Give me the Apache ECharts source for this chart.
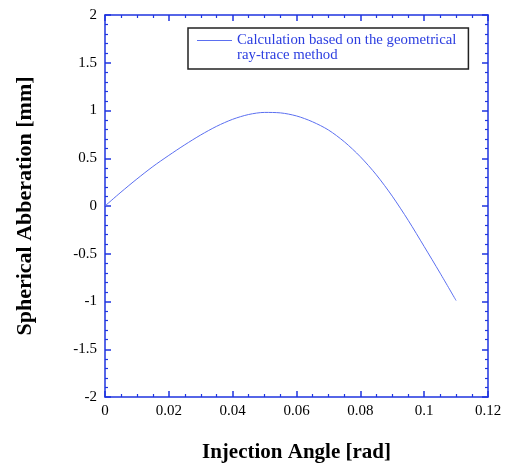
<!DOCTYPE html>
<html>
<head>
<meta charset="utf-8">
<script src="https://cdn.jsdelivr.net/npm/echarts@6/dist/echarts.min.js"></script>
<style>
    html, body { margin: 0; padding: 0; background: #fff; }
    #chart { width: 506px; height: 464px; }
</style>
</head>
<body>
<div id="chart"></div>
<script>
// values
const angles = [0, 0.005, 0.01, 0.015, 0.02, 0.025, 0.03, 0.035, 0.04, 0.045, 0.05, 0.055,
    0.06, 0.065, 0.07, 0.075, 0.08, 0.085, 0.09, 0.095, 0.1, 0.105, 0.11];
const aberration = [0, 0.145, 0.283, 0.413, 0.530, 0.641, 0.744, 0.835, 0.908, 0.958, 0.980, 0.975,
    0.943, 0.882, 0.796, 0.672, 0.516, 0.327, 0.103, -0.150, -0.424, -0.703, -0.99];
const seriesName = 'Calculation based on the geometrical\nray-trace method';

const axisBlue = '#1f35e0';
const lineBlue = '#5b6ff0';
const serif = '"Liberation Serif", "DejaVu Serif", serif';

function fmt(v) {
    return String(parseFloat(v.toFixed(2)));
}

function frameAxis(pos, min, max, interval, minors, showLabel) {
    return {
        type: 'value',
        position: pos,
        min: min,
        max: max,
        interval: interval,
        axisLine: {show: true, onZero: false, lineStyle: {color: axisBlue, width: 1.5}},
        axisTick: {show: true, inside: true, length: 6, lineStyle: {color: axisBlue, width: 1.5}},
        minorTick: {show: true, splitNumber: minors, length: 3, lineStyle: {color: axisBlue, width: 1.2}},
        splitLine: {show: false},
        axisLabel: {
            show: showLabel,
            margin: 8,
            color: '#000',
            fontFamily: serif,
            fontSize: 15,
            formatter: fmt
        }
    };
}

let myChart = echarts.init(document.getElementById('chart'));

let xBottom = frameAxis('bottom', 0, 0.12, 0.02, 4, true);
xBottom.axisLabel.margin = 7;
xBottom.name = 'Injection Angle [rad]';
xBottom.nameLocation = 'middle';
xBottom.nameGap = 45;
xBottom.nameTextStyle = {color: '#000', fontFamily: serif, fontSize: 21, fontWeight: 'bold'};

let yLeft = frameAxis('left', -2, 2, 0.5, 5, true);
yLeft.name = 'Spherical Abberation [mm]';
yLeft.nameLocation = 'middle';
yLeft.nameGap = 69;
yLeft.nameTextStyle = {color: '#000', fontFamily: serif, fontSize: 22, fontWeight: 'bold'};

myChart.setOption({
    animation: false,
    grid: {left: 105, right: 18, top: 15, bottom: 67, outerBoundsMode: 'none'},
    xAxis: [xBottom, frameAxis('top', 0, 0.12, 0.02, 4, false)],
    yAxis: [yLeft, frameAxis('right', -2, 2, 0.5, 5, false)],
    legend: {
        left: 188,
        top: 28,
        padding: [5, 12, 6, 9],
        borderColor: '#222',
        borderWidth: 1.5,
        itemWidth: 35,
        itemHeight: 30,
        // thin line at the height of the first text row
        icon: 'path://M0,0 M35,30 M0,7 L35,7 L35,8 L0,8 Z',
        textStyle: {
            color: '#2b3de0',
            fontFamily: serif,
            fontSize: 14.8,
            lineHeight: 15
        },
        data: [seriesName]
    },
    series: [
        {
            name: seriesName,
            type: 'line',
            xAxisIndex: 0,
            yAxisIndex: 0,
            data: angles.map((a, i) => [a, aberration[i]]),
            smooth: 0.3,
            symbol: 'none',
            itemStyle: {color: lineBlue},
            lineStyle: {color: lineBlue, width: 1}
        }
    ]
});
</script>
</body>
</html>
